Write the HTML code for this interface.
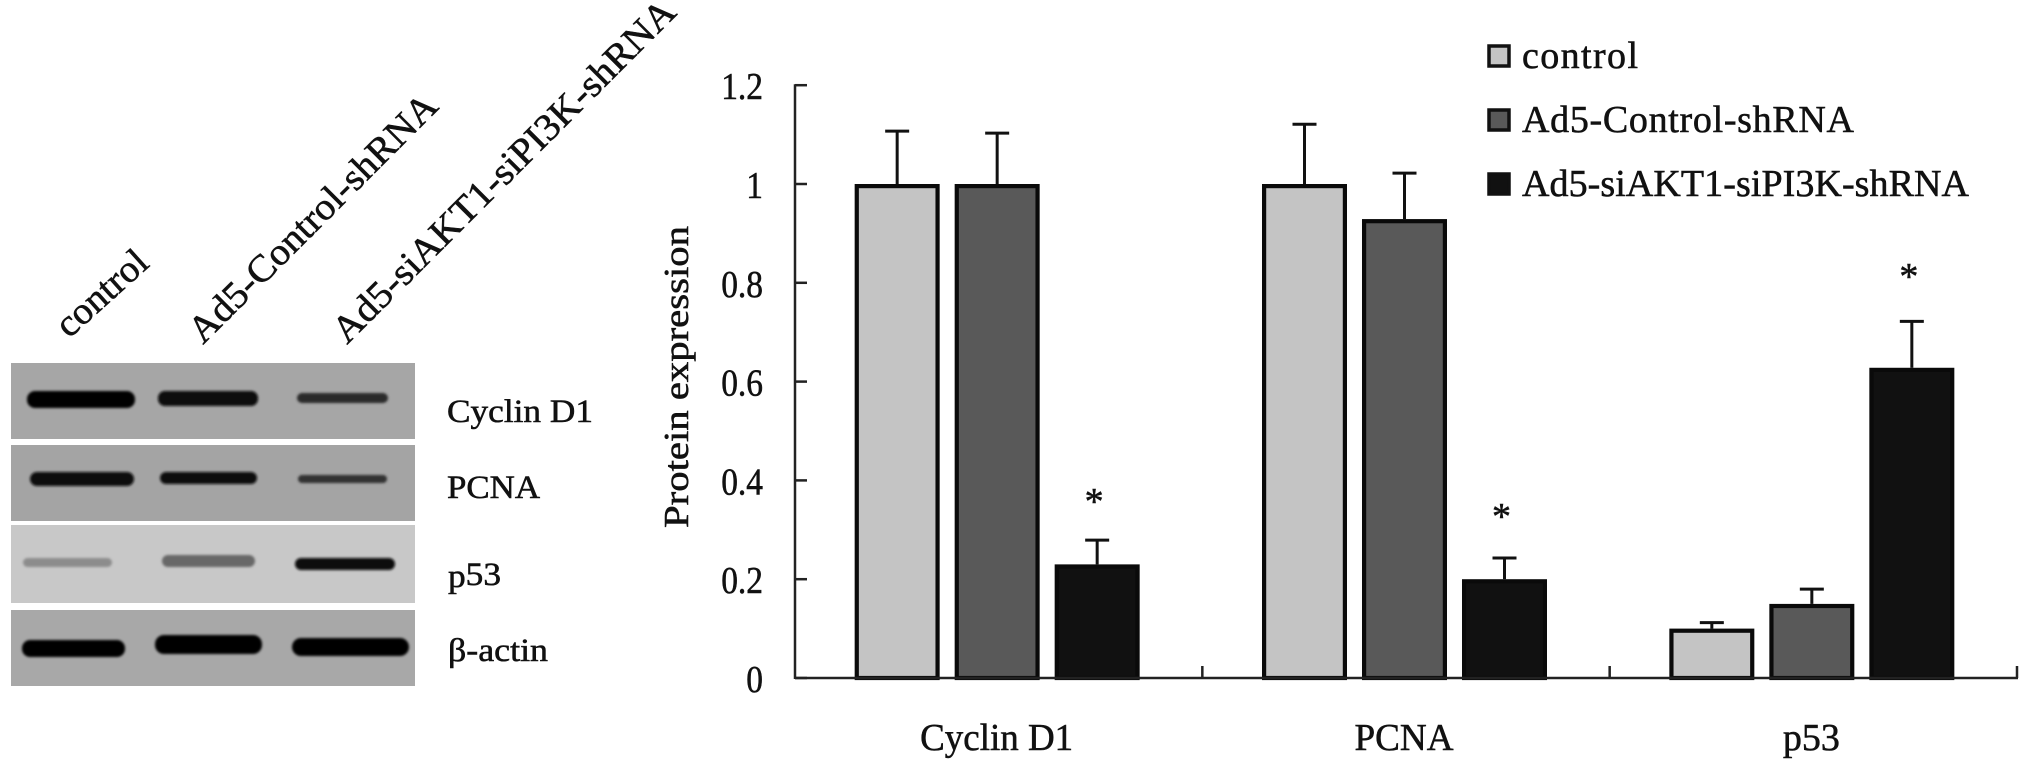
<!DOCTYPE html>
<html lang="en">
<head>
<meta charset="utf-8">
<title>Protein expression western blot and bar chart</title>
<style>
html,body{margin:0;padding:0;background:#fff;width:2031px;height:772px;overflow:hidden}
svg{display:block}
text{font-family:"Liberation Serif","DejaVu Serif",serif;fill:#111;stroke:#111;stroke-width:.55px}
</style>
</head>
<body>
<svg id="figure" xmlns="http://www.w3.org/2000/svg" width="2031" height="772" viewBox="0 0 2031 772">
<defs>
<filter id="soft" x="-20%" y="-80%" width="140%" height="260%"><feGaussianBlur stdDeviation="1.2"/></filter>
</defs>
<g>
<rect x="11" y="363" width="404" height="76" fill="#a6a6a6"/>
<rect x="11" y="445" width="404" height="76" fill="#a4a4a4"/>
<rect x="11" y="525" width="404" height="78" fill="#c8c8c8"/>
<rect x="11" y="610" width="404" height="76" fill="#a8a8a8"/>
<g filter="url(#soft)">
<rect x="27" y="391" width="108" height="17" rx="8" fill="#050505"/>
<rect x="158" y="391" width="100" height="15" rx="7" fill="#080808"/>
<rect x="297" y="393" width="91" height="10" rx="5" fill="#2a2a2a"/>
<rect x="30" y="472" width="104" height="14" rx="7" fill="#0a0a0a"/>
<rect x="160" y="472" width="97" height="12" rx="6" fill="#0e0e0e"/>
<rect x="298" y="475" width="89" height="8" rx="4" fill="#333"/>
<rect x="23" y="558" width="89" height="9" rx="4.5" fill="#8c8c8c"/>
<rect x="162" y="555" width="93" height="12" rx="6" fill="#686868"/>
<rect x="295" y="558" width="100" height="12" rx="6" fill="#0a0a0a"/>
<rect x="22" y="640" width="103" height="17" rx="8" fill="#050505"/>
<rect x="155" y="635" width="107" height="19" rx="9" fill="#050505"/>
<rect x="292" y="638" width="117" height="18" rx="9" fill="#050505"/>
</g>
</g>
<g font-size="38">
<text transform="translate(69,339) rotate(-42)" textLength="110" lengthAdjust="spacingAndGlyphs">control</text>
<text transform="translate(203,345) rotate(-45)" textLength="335" lengthAdjust="spacingAndGlyphs">Ad5-Control-shRNA</text>
<text transform="translate(347,345) rotate(-45)" textLength="468" lengthAdjust="spacingAndGlyphs">Ad5-siAKT1-siPI3K-shRNA</text>
</g>
<g font-size="33">
<text x="447" y="422" textLength="146" lengthAdjust="spacingAndGlyphs">Cyclin D1</text>
<text x="447" y="498" textLength="93" lengthAdjust="spacingAndGlyphs">PCNA</text>
<text x="448" y="587" textLength="53" lengthAdjust="spacingAndGlyphs">p<tspan dy="-2">53</tspan></text>
<text x="448" y="661" textLength="100" lengthAdjust="spacingAndGlyphs">β-actin</text>
</g>
<g id="chart"></g>
</svg>
<script>
const categories = ['Cyclin D1', 'PCNA', 'p53'];
const categoryLabelWidths = [153, 99, 57];
const seriesNames = ['control', 'Ad5-Control-shRNA', 'Ad5-siAKT1-siPI3K-shRNA'];
const controlValues = [1, 1, 0.1];
const controlErrorTops = [1.107, 1.121, 0.112];
const ad5ControlValues = [1, 0.929, 0.15];
const ad5ControlErrorTops = [1.103, 1.022, 0.18];
const ad5SiValues = [0.23, 0.2, 0.628];
const ad5SiErrorTops = [0.279, 0.243, 0.722];
const significanceMarkLevels = [0.368, 0.338, 0.824];
const yTickValues = [0, 0.2, 0.4, 0.6, 0.8, 1, 1.2];
const yTickLabels = ['0', '0.2', '0.4', '0.6', '0.8', '1', '1.2'];

const seriesValues = [controlValues, ad5ControlValues, ad5SiValues];
const seriesErrorTops = [controlErrorTops, ad5ControlErrorTops, ad5SiErrorTops];
const seriesFills = ['#c4c4c4', '#595959', '#111111'];

const NS = 'http://www.w3.org/2000/svg';
const chart = document.getElementById('chart');
const axisLeft = 795, axisRight = 2017, axisBottom = 678, pxPerUnit = 494;
const barOuter = 85, barStroke = 4.2, barStep = 100;

function yScale(v) { return axisBottom - v * pxPerUnit; }
function groupLeft(i) { return axisLeft + i * (axisRight - axisLeft) / categories.length; }
function groupCenter(i) { return groupLeft(i) + (axisRight - axisLeft) / categories.length / 2; }
function barCenter(g, s) { return groupCenter(g) - 1.5 + (s - 1) * barStep; }

function mk(tag, props, text) {
  const el = document.createElementNS(NS, tag);
  for (const k in props) el.setAttribute(k, props[k]);
  if (text !== undefined) el.textContent = text;
  chart.appendChild(el);
  return el;
}

seriesNames.forEach(function (name, s) {
  categories.forEach(function (cat, g) {
    const cx = barCenter(g, s);
    const top = yScale(seriesErrorTops[s][g]);
    const base = yScale(seriesValues[s][g]);
    const stem = mk('line', {x1: cx, x2: cx, y1: top, y2: base, stroke: '#111', 'stroke-width': 3});
    
    
    const cap = mk('line', {x1: cx - 12, x2: cx + 12, y1: top, y2: top, stroke: '#111', 'stroke-width': 3});
    
    
    const v = seriesValues[s][g];
    const bar = mk('rect', {
      x: cx - barOuter / 2 + barStroke / 2,
      y: yScale(v) + barStroke / 2,
      width: barOuter - barStroke,
      height: Math.max(0, v * pxPerUnit - barStroke / 2),
      fill: seriesFills[s], stroke: '#0a0a0a', 'stroke-width': barStroke
    });
    
    
    if (s === 2) {
      const star = mk('text', {x: cx - 3, y: yScale(significanceMarkLevels[g]) + 18, 'font-size': 38, 'text-anchor': 'middle'}, '*');
      
      
    }
  });
});

const yAxis = mk('line', {x1: axisLeft, x2: axisLeft, y1: yScale(1.2) - 1, y2: axisBottom + 1, stroke: '#222', 'stroke-width': 2.5});


const xAxis = mk('line', {x1: axisLeft, x2: axisRight + 1, y1: axisBottom, y2: axisBottom, stroke: '#222', 'stroke-width': 2.5});



yTickValues.forEach(function (v, i) {
  const y = yScale(v);
  const tick = mk('line', {x1: axisLeft, x2: axisLeft + 12, y1: y, y2: y, stroke: '#222', 'stroke-width': 2.5});
  
  
  const label = mk('text', {x: 763, y: y + 14, 'font-size': 38, 'text-anchor': 'end'}, yTickLabels[i]);
  label.setAttribute('textLength', (label.getComputedTextLength() * 0.88).toFixed(1));
  label.setAttribute('lengthAdjust', 'spacingAndGlyphs');
  
  
});

categories.forEach(function (cat, g) {
  const x = groupLeft(g + 1);
  const tick = mk('line', {x1: x, x2: x, y1: axisBottom - 12, y2: axisBottom, stroke: '#222', 'stroke-width': 2.5});
  
  
  const label = mk('text', {x: groupCenter(g) - 2, y: 750, 'font-size': 38, 'text-anchor': 'middle', textLength: categoryLabelWidths[g], lengthAdjust: 'spacingAndGlyphs'}, cat);
  
  
});

const yTitle = mk('text', {transform: 'translate(688,528) rotate(-90)', 'font-size': 35, textLength: 302, lengthAdjust: 'spacingAndGlyphs'}, 'Protein expression');



const legendSwatchTops = [44, 108, 172];
const legendBaselines = [68, 132, 196];
const legendWidths = [116, 332, 447];
seriesNames.forEach(function (name, s) {
  const sw = mk('rect', {x: 1489, y: legendSwatchTops[s] + 2, width: 20, height: 20, fill: seriesFills[s], stroke: '#111', 'stroke-width': 3.5});
  
  
  const t = mk('text', {x: 1522, y: legendBaselines[s], 'font-size': 38, textLength: legendWidths[s], lengthAdjust: 'spacing'}, name);
  
  
});
</script>
</body>
</html>
